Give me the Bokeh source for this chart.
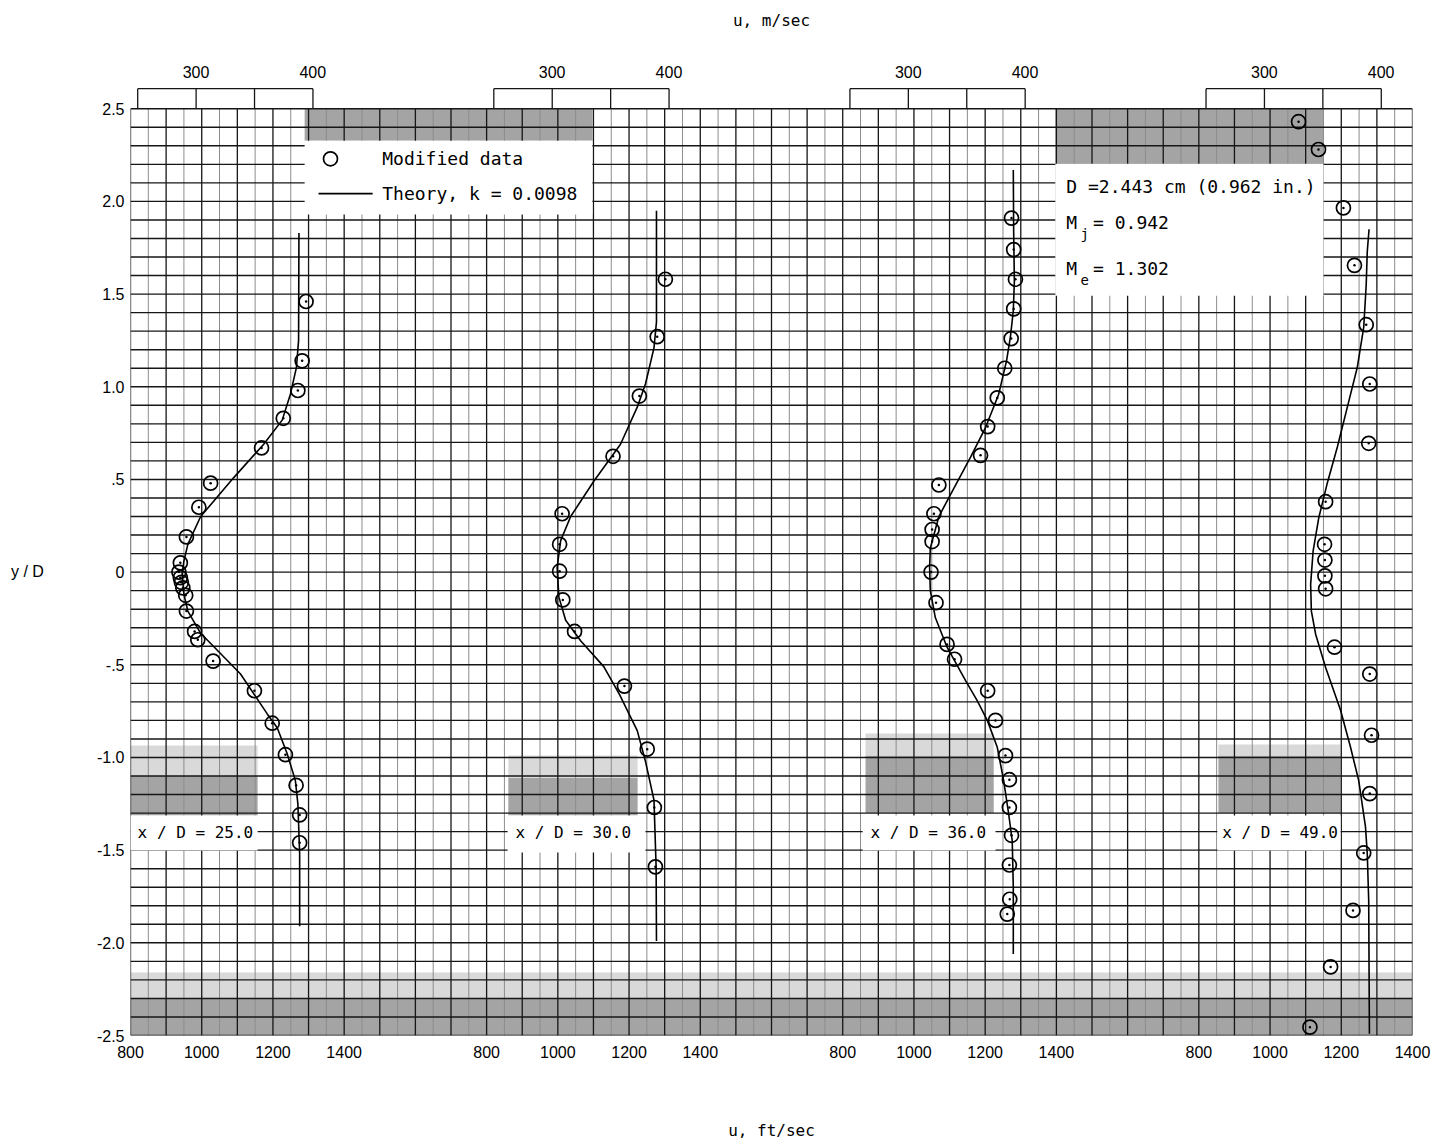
import numpy as np
from bokeh.plotting import figure
from bokeh.models import FixedTicker, LinearAxis, Label, Range1d
from bokeh.embed import file_html
from bokeh.resources import INLINE

# ---------------- data ----------------
station_labels = ["x / D = 25.0", "x / D = 30.0", "x / D  = 36.0", "x / D = 49.0"]

# x/D = 25.0
data_u_25 = [1293, 1282, 1270, 1229, 1168, 1025, 992, 957, 940, 936, 940, 943, 947, 955, 957,
             980, 989, 1032, 1148, 1198, 1235, 1265, 1275, 1275]
data_y_25 = [1.46, 1.14, 0.98, 0.83, 0.67, 0.48, 0.35, 0.19, 0.05, 0.00, -0.03, -0.055, -0.085,
             -0.125, -0.21, -0.32, -0.365, -0.48, -0.64, -0.815, -0.985, -1.15, -1.31, -1.46]
theory_u_25 = [1273, 1272, 1266, 1249, 1226, 1174, 1090, 997, 961, 950, 945, 950, 961, 997, 1043,
               1109, 1184, 1212, 1240, 1263, 1270, 1275, 1275]
theory_y_25 = [1.83, 1.25, 1.105, 0.96, 0.82, 0.69, 0.51, 0.30, 0.15, 0.06, -0.01, -0.12, -0.21,
               -0.33, -0.42, -0.55, -0.765, -0.84, -0.98, -1.125, -1.25, -1.52, -1.91]

# x/D = 30.0
data_u_30 = [1302, 1279, 1229, 1155, 1012, 1005, 1005, 1014, 1047, 1187, 1251, 1271, 1274]
data_y_30 = [1.58, 1.27, 0.95, 0.625, 0.315, 0.15, 0.005, -0.15, -0.32, -0.615, -0.955, -1.27, -1.59]
theory_u_30 = [1277, 1277, 1270, 1246, 1223, 1176, 1101, 1036, 1008, 998, 1003, 1022, 1064, 1129,
               1173, 1223, 1246, 1270, 1276, 1277]
theory_y_30 = [1.95, 1.35, 1.21, 1.015, 0.89, 0.69, 0.49, 0.30, 0.17, 0.025, -0.135, -0.26, -0.37,
               -0.51, -0.66, -0.855, -1.02, -1.23, -1.59, -1.99]

# x/D = 36.0
data_u_36 = [1274, 1280, 1285, 1280, 1273, 1255, 1234, 1207, 1187, 1070, 1056, 1051, 1051, 1048,
             1062, 1093, 1114, 1207, 1229, 1257, 1268, 1268, 1274, 1268, 1269, 1262]
data_y_36 = [1.91, 1.74, 1.58, 1.42, 1.26, 1.10, 0.94, 0.785, 0.63, 0.47, 0.315, 0.23, 0.165, 0.0,
             -0.165, -0.39, -0.47, -0.64, -0.80, -0.99, -1.12, -1.27, -1.42, -1.58, -1.765, -1.845]
theory_u_36 = [1279, 1280, 1282, 1279, 1271, 1260, 1238, 1201, 1159, 1103, 1070, 1046, 1044, 1046,
               1060, 1093, 1145, 1178, 1206, 1234, 1252, 1266, 1276, 1279, 1279]
theory_y_36 = [2.17, 1.84, 1.57, 1.41, 1.27, 1.14, 0.96, 0.78, 0.62, 0.42, 0.30, 0.13, 0.025, -0.10,
               -0.245, -0.405, -0.585, -0.695, -0.80, -0.945, -1.125, -1.305, -1.45, -1.70, -2.06]

# x/D = 49.0
data_u_49 = [1080, 1136, 1206, 1237, 1270, 1280, 1277, 1156, 1153, 1154, 1154, 1156, 1181, 1280,
             1285, 1280, 1263, 1233, 1170, 1112]
data_y_49 = [2.43, 2.28, 1.965, 1.655, 1.335, 1.015, 0.695, 0.38, 0.15, 0.065, -0.02, -0.09, -0.405,
             -0.55, -0.88, -1.195, -1.515, -1.825, -2.13, -2.455]
theory_u_49 = [1278, 1273, 1270, 1263, 1245, 1217, 1189, 1160, 1137, 1121, 1114, 1116, 1128, 1156,
               1198, 1226, 1249, 1268, 1273, 1277, 1279]
theory_y_49 = [1.85, 1.73, 1.55, 1.32, 1.105, 0.89, 0.675, 0.475, 0.295, 0.115, -0.065, -0.21,
               -0.335, -0.515, -0.745, -0.945, -1.125, -1.375, -1.52, -1.77, -2.49]

ft_ticks = [800, 1000, 1200, 1400]          # u, ft/sec tick labels of each panel
ms_ticks = [300, 400]                       # u, m/sec tick labels of each panel
ms_bracket = [250, 300, 350, 400]           # m/sec scale bracket marks
y_ticks = [-2.5, -2.0, -1.5, -1.0, -0.5, 0.0, 0.5, 1.0, 1.5, 2.0, 2.5]
y_tick_labels = ["-2.5", "-2.0", "-1.5", "-1.0", "-.5", "0", ".5", "1.0", "1.5", "2.0", "2.5"]
legend_labels = ["Modified data", "Theory,  k = 0.0098"]
info_D = "D =2.443 cm (0.962 in.)"
info_Mj = "= 0.942"
info_Me = "= 1.302"

# ---------------- layout constants ----------------
SHIFT = 1000.0          # each panel is shifted by 1000 ft/sec on the shared axis
FT_PER_M = 3.28084
MONO = "DejaVu Sans Mono"
TICKF = "Liberation Sans"
DENSE = "#a4a4a4"
LIGHT = "#d9d9d9"

p = figure(width=1431, height=1144, x_range=Range1d(800, 4400), y_range=Range1d(-2.5, 2.62),
           output_backend="svg", toolbar_location=None,
           min_border_left=130, min_border_right=19, min_border_top=86, min_border_bottom=109)
p.xgrid.visible = False
p.ygrid.visible = False
p.outline_line_color = None

# ---- stippled (shaded) regions of the graph paper ----
dense = dict(left=[1289, 3397, 800, 1861, 2864, 3855, 800],
             right=[2097, 4150, 1157, 2224, 3224, 4198, 4400],
             bottom=[2.327, 2.203, -1.313, -1.313, -1.30, -1.30, -2.5],
             top=[2.5, 2.5, -1.098, -1.109, -0.99, -0.99, -2.3])
p.quad(fill_color=DENSE, line_color=None, **dense)
light = dict(left=[800, 1861, 2864, 3855, 800],
             right=[1157, 2224, 3224, 4198, 4400],
             bottom=[-1.098, -1.109, -0.99, -0.99, -2.3],
             top=[-0.936, -0.99, -0.87, -0.93, -2.16])
p.quad(fill_color=LIGHT, line_color=None, **light)

# ---- graph paper grid ----
vx = np.arange(800, 4401, 50)
p.segment(x0=vx[vx % 100 == 0], y0=-2.5, x1=vx[vx % 100 == 0], y1=2.5,
          line_color="#161616", line_width=1.3)
p.segment(x0=vx[vx % 100 == 50], y0=-2.5, x1=vx[vx % 100 == 50], y1=2.5,
          line_color="#8c8c8c", line_width=1.0)
hy = np.round(np.arange(-2.5, 2.5001, 0.1), 2)
p.segment(x0=800, y0=hy, x1=4400, y1=hy, line_color="#161616", line_width=1.4)

# ---- white label areas ----
p.quad(left=[1289, 3397, 800, 1859, 2856, 3852],
       right=[2097, 4150, 1157, 2246, 3229, 4198],
       bottom=[1.93, 1.491, -1.502, -1.513, -1.502, -1.502],
       top=[2.327, 2.203, -1.313, -1.313, -1.313, -1.313],
       fill_color="white", line_color=None)

# ---- m/sec scale brackets above the frame ----
for k in range(4):
    bx = [m * FT_PER_M + SHIFT * k for m in ms_bracket]
    p.segment(x0=bx, y0=2.5, x1=bx, y1=2.608, line_color="#161616", line_width=1.3)
    p.segment(x0=bx[0], y0=2.608, x1=bx[-1], y1=2.608, line_color="#161616", line_width=1.3)

# ---- theory curves and data ----
theory = [(theory_u_25, theory_y_25), (theory_u_30, theory_y_30),
          (theory_u_36, theory_y_36), (theory_u_49, theory_y_49)]
data = [(data_u_25, data_y_25), (data_u_30, data_y_30),
        (data_u_36, data_y_36), (data_u_49, data_y_49)]
for k in range(4):
    tu, ty = theory[k]
    p.line(np.array(tu) + SHIFT * k, ty, line_color="black", line_width=1.6)
for k in range(4):
    du, dy = data[k]
    xs = np.array(du) + SHIFT * k
    p.scatter(xs, dy, marker="circle", size=14, fill_color=None, line_color="black", line_width=1.7)
    p.scatter(xs, dy, marker="circle", size=2.5, fill_color="black", line_color=None)

# ---- legend (drawn inside the white area) ----
p.scatter([1361.6], [2.23], marker="circle", size=14, fill_color=None, line_color="black", line_width=1.7)
p.segment(x0=1328, y0=2.042, x1=1480, y1=2.042, line_color="black", line_width=1.6)


def lab(x, y, text, size="18px", align="left"):
    p.add_layout(Label(x=x, y=y, text=text, text_font=MONO, text_font_size=size,
                       text_align=align, text_baseline="middle", text_color="black"))


lab(1507, 2.23, legend_labels[0])
lab(1507, 2.042, legend_labels[1])
lab(3428, 2.08, info_D)
lab(3428, 1.885, "M")
lab(3468, 1.822, "j", size="14px")
lab(3503, 1.885, info_Mj)
lab(3428, 1.637, "M")
lab(3468, 1.574, "e", size="14px")
lab(3503, 1.637, info_Me)
for k, xpos in enumerate([820, 1881, 2878, 3866]):
    lab(xpos, -1.405, station_labels[k], size="16px")

# ---- axes ----
def style(ax):
    ax.axis_line_color = None
    ax.major_tick_line_color = None
    ax.minor_tick_line_color = None
    ax.major_tick_out = 0
    ax.major_tick_in = 0
    ax.minor_tick_out = 0
    ax.minor_tick_in = 0
    ax.major_label_text_font = TICKF
    ax.major_label_text_font_size = "16px"
    ax.major_label_text_color = "black"
    ax.axis_label_text_font = MONO
    ax.axis_label_text_font_size = "16px"
    ax.axis_label_text_font_style = "normal"
    ax.axis_label_text_color = "black"


bottom = p.below[0]
bticks = [t + int(SHIFT) * k for k in range(4) for t in ft_ticks]
bottom.ticker = FixedTicker(ticks=bticks)
bottom.major_label_overrides = {t + int(SHIFT) * k: str(t) for k in range(4) for t in ft_ticks}
bottom.axis_label = "u, ft/sec"
style(bottom)
bottom.major_label_standoff = 10
bottom.axis_label_standoff = 60

left = p.left[0]
left.ticker = FixedTicker(ticks=y_ticks)
left.major_label_overrides = {v: s for v, s in zip(y_ticks, y_tick_labels)}
style(left)
left.major_label_standoff = 6
left.axis_label = "\ny / D"
left.axis_label_orientation = "horizontal"
left.axis_label_text_font = TICKF
left.axis_label_standoff = 50

tticks = [int(round(m * FT_PER_M)) + int(SHIFT) * k for k in range(4) for m in ms_ticks]
top = LinearAxis(ticker=FixedTicker(ticks=tticks),
                 major_label_overrides={int(round(m * FT_PER_M)) + int(SHIFT) * k: str(m)
                                        for k in range(4) for m in ms_ticks},
                 axis_label="u, m/sec")
style(top)
top.major_label_standoff = 9
top.axis_label_standoff = 33
p.add_layout(top, "above")

open("out.html", "w").write(file_html(p, INLINE))
